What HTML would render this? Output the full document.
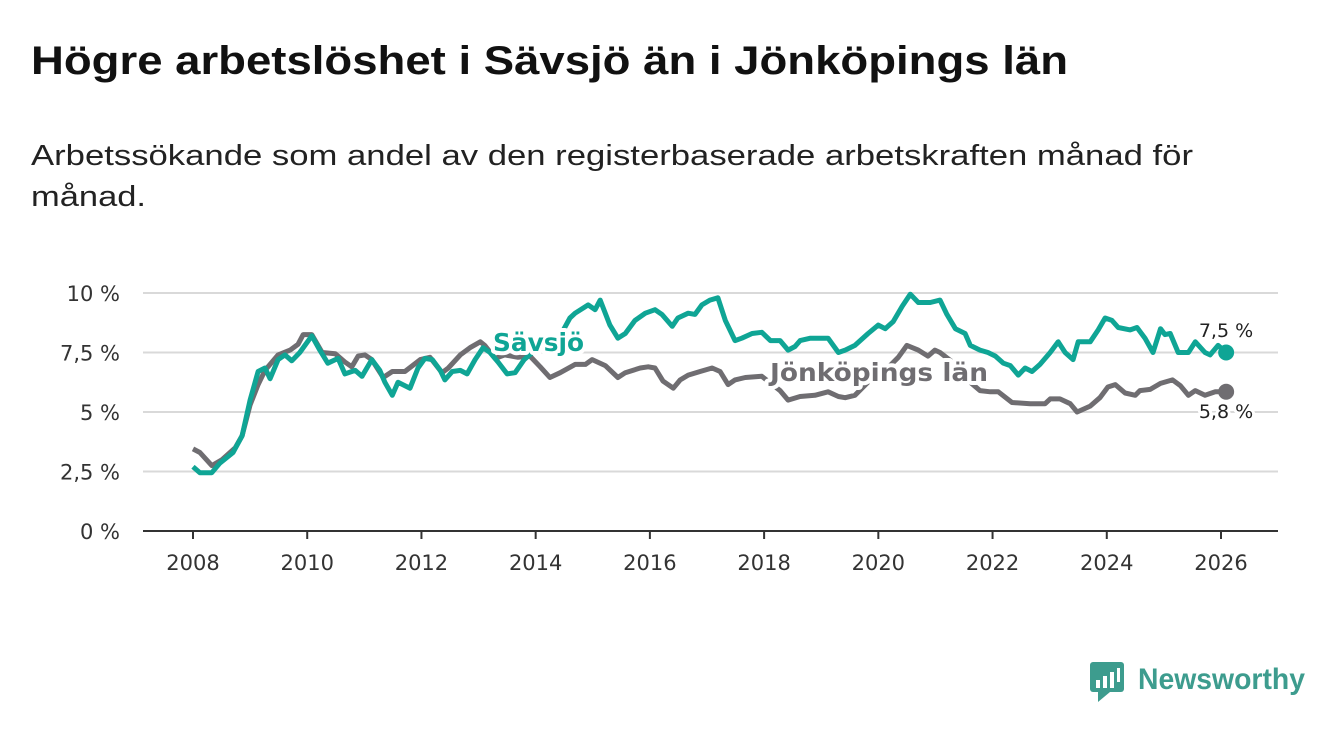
<!DOCTYPE html>
<html><head><meta charset="utf-8"><style>
body{margin:0;background:#fff;width:1340px;height:734px;overflow:hidden;font-family:"Liberation Sans",sans-serif}
</style></head><body>
<svg width="1340" height="734" id="chart">
<text x="31" y="74" font-size="40" font-weight="bold" fill="#111" textLength="1037" lengthAdjust="spacingAndGlyphs">Högre arbetslöshet i Sävsjö än i Jönköpings län</text>
<text font-size="29" fill="#222"><tspan x="31" y="165" textLength="1162" lengthAdjust="spacingAndGlyphs">Arbetssökande som andel av den registerbaserade arbetskraften månad för</tspan><tspan x="31" y="206" textLength="115" lengthAdjust="spacingAndGlyphs">månad.</tspan></text>
<g id="grid"></g><g id="lines"></g><g id="labels"></g>
<g>
<rect x="1090" y="662" width="34" height="30" rx="3" fill="#3d9c8e"/>
<polygon points="1098,692 1110,692 1098,702" fill="#3d9c8e"/>
<rect x="1096" y="680" width="4" height="8" fill="#fff"/><rect x="1103" y="676" width="4" height="12" fill="#fff"/><rect x="1110" y="672" width="4" height="16" fill="#fff"/><rect x="1117" y="668" width="3" height="14" fill="#fff"/>
<text x="1138" y="689" font-size="30" font-weight="bold" fill="#3d9c8e" textLength="167" lengthAdjust="spacingAndGlyphs">Newsworthy</text>
</g>
</svg>
<script>
const yTicks=[0,2.5,5,7.5,10];
const yTickLabels=["0 %","2,5 %","5 %","7,5 %","10 %"];
const xTicks=[2008,2010,2012,2014,2016,2018,2020,2022,2024,2026];
const savsjoYears=[2008.00,2008.12,2008.33,2008.47,2008.70,2008.86,2009.00,2009.14,2009.26,2009.35,2009.49,2009.61,2009.73,2009.87,2010.08,2010.22,2010.36,2010.54,2010.66,2010.84,2010.96,2011.13,2011.27,2011.36,2011.49,2011.59,2011.80,2011.94,2012.06,2012.19,2012.33,2012.41,2012.54,2012.68,2012.80,2012.94,2013.08,2013.20,2013.34,2013.50,2013.64,2013.80,2013.99,2014.16,2014.43,2014.60,2014.69,2014.92,2015.04,2015.13,2015.30,2015.44,2015.57,2015.74,2015.92,2016.09,2016.21,2016.39,2016.49,2016.67,2016.79,2016.91,2017.05,2017.19,2017.32,2017.49,2017.61,2017.79,2017.96,2018.11,2018.28,2018.42,2018.54,2018.63,2018.81,2019.12,2019.30,2019.42,2019.59,2019.82,2020.00,2020.12,2020.26,2020.42,2020.56,2020.70,2020.91,2021.08,2021.20,2021.35,2021.52,2021.61,2021.78,2021.92,2022.05,2022.19,2022.31,2022.45,2022.57,2022.69,2022.83,2023.01,2023.15,2023.27,2023.41,2023.50,2023.71,2023.85,2023.97,2024.09,2024.20,2024.41,2024.53,2024.67,2024.81,2024.94,2025.02,2025.11,2025.25,2025.43,2025.55,2025.72,2025.81,2025.95,2026.09];
const savsjoValues=[2.7,2.45,2.45,2.85,3.3,4.0,5.5,6.7,6.85,6.4,7.2,7.4,7.15,7.5,8.2,7.6,7.05,7.25,6.6,6.75,6.5,7.2,6.75,6.25,5.7,6.25,6.0,6.85,7.25,7.2,6.75,6.35,6.7,6.75,6.6,7.2,7.7,7.5,7.1,6.6,6.65,7.2,7.6,7.8,8.2,8.95,9.15,9.5,9.3,9.7,8.65,8.1,8.3,8.85,9.15,9.3,9.1,8.6,8.95,9.15,9.1,9.5,9.7,9.8,8.85,8.0,8.1,8.3,8.35,8.0,8.0,7.6,7.75,8.0,8.1,8.1,7.5,7.6,7.8,8.3,8.65,8.5,8.8,9.45,9.95,9.6,9.6,9.7,9.1,8.5,8.3,7.8,7.6,7.5,7.35,7.05,6.95,6.55,6.85,6.7,7.0,7.5,7.95,7.5,7.2,7.95,7.95,8.45,8.95,8.85,8.55,8.45,8.55,8.1,7.5,8.5,8.25,8.3,7.5,7.5,7.95,7.5,7.4,7.8,7.5];
const lanYears=[2008.00,2008.12,2008.33,2008.51,2008.74,2008.86,2009.00,2009.14,2009.26,2009.49,2009.70,2009.84,2009.93,2010.08,2010.26,2010.49,2010.66,2010.78,2010.89,2011.01,2011.13,2011.33,2011.49,2011.71,2011.98,2012.15,2012.36,2012.47,2012.68,2012.85,2013.03,2013.11,2013.29,2013.46,2013.69,2013.90,2014.08,2014.25,2014.43,2014.69,2014.87,2014.99,2015.22,2015.44,2015.57,2015.83,2015.97,2016.09,2016.23,2016.41,2016.53,2016.67,2016.88,2017.09,2017.23,2017.37,2017.49,2017.67,2017.96,2018.28,2018.42,2018.63,2018.89,2019.12,2019.30,2019.42,2019.59,2019.86,2020.12,2020.35,2020.50,2020.70,2020.87,2020.99,2021.08,2021.35,2021.61,2021.78,2021.96,2022.10,2022.34,2022.66,2022.92,2023.01,2023.18,2023.36,2023.48,2023.71,2023.88,2024.02,2024.15,2024.32,2024.50,2024.58,2024.76,2024.94,2025.15,2025.29,2025.43,2025.55,2025.72,2025.90,2026.09];
const lanValues=[3.45,3.3,2.75,3.0,3.5,4.0,5.3,6.15,6.75,7.4,7.6,7.85,8.25,8.25,7.5,7.45,7.1,6.9,7.35,7.4,7.2,6.45,6.7,6.7,7.2,7.3,6.65,6.85,7.4,7.7,7.95,7.8,7.25,7.4,7.3,7.35,6.9,6.45,6.65,7.0,7.0,7.2,6.95,6.45,6.65,6.85,6.9,6.85,6.3,6.0,6.35,6.55,6.7,6.85,6.7,6.15,6.35,6.45,6.5,5.9,5.5,5.65,5.7,5.85,5.65,5.6,5.7,6.35,6.75,7.3,7.8,7.6,7.35,7.6,7.5,7.0,6.25,5.9,5.85,5.85,5.4,5.35,5.35,5.55,5.55,5.35,5.0,5.25,5.6,6.05,6.15,5.8,5.7,5.9,5.95,6.2,6.35,6.1,5.7,5.9,5.7,5.85,5.85];
const NS="http://www.w3.org/2000/svg";
const X=y=>193+(y-2008)*(1221-193)/18;
const Y=v=>531-v*23.8;
function el(t,a,p){const e=document.createElementNS(NS,t);for(const k in a)e.setAttribute(k,a[k]);p.appendChild(e);return e;}
const grid=document.getElementById('grid'),lines=document.getElementById('lines'),labels=document.getElementById('labels');
yTicks.forEach((v,i)=>{
 const l=el('line',{x1:143,x2:1278,y1:Y(v),y2:Y(v),stroke:v===0?'#333':'#d9d9d9','stroke-width':2},grid);
 
 
 const t=el('text',{x:120,y:Y(v)+8,'text-anchor':'end','font-size':21,fill:'#333','font-family':'DejaVu Sans, sans-serif'},grid);
 t.textContent=yTickLabels[i];
 
 
});
xTicks.forEach(yr=>{
 const k=el('line',{x1:X(yr),x2:X(yr),y1:531,y2:539,stroke:'#333','stroke-width':2},grid);
 
 
 const t=el('text',{x:X(yr),y:570,'text-anchor':'middle','font-size':21,fill:'#333','font-family':'DejaVu Sans, sans-serif'},grid);
 t.textContent=yr;
 
 
});
function series(ys,vs,color,name){
 const d=ys.map((y,i)=>(i?'L':'M')+X(y).toFixed(1)+','+Y(vs[i]).toFixed(1)).join(' ');
 const p=el('path',{d:d,fill:'none',stroke:color,'stroke-width':5,'stroke-linejoin':'round'},lines);
 
 
 const n=ys.length-1;
 const c=el('circle',{cx:X(ys[n]),cy:Y(vs[n]),r:8,fill:color},lines);
 
 
}
series(lanYears,lanValues,'#6f6d71','jonkoping');
series(savsjoYears,savsjoValues,'#0fa595','savsjo');
function lab(x,y,txt,color,size,bold,name,anchor,len){
 const a={x:x,y:y,'font-size':size,fill:color,'font-weight':bold?'bold':'normal',stroke:'#fff','stroke-width':bold?8:6,'paint-order':'stroke','stroke-linejoin':'round','text-anchor':anchor||'start','font-family':'DejaVu Sans, sans-serif'};
 if(len){a.textLength=len;a.lengthAdjust='spacingAndGlyphs';}
 const t=el('text',a,labels);
 t.textContent=txt;
 
 
}
lab(493,351,'Sävsjö','#0fa595',25,true,'savsjo-label','start',91);
lab(770,381,'Jönköpings län','#6f6d71',25,true,'jonkoping-label','start',218);
lab(1226,337,'7,5 %','#222',19,false,'savsjo-end-value','middle');
lab(1226,418,'5,8 %','#222',19,false,'jonkoping-end-value','middle');
</script>
</body></html>
